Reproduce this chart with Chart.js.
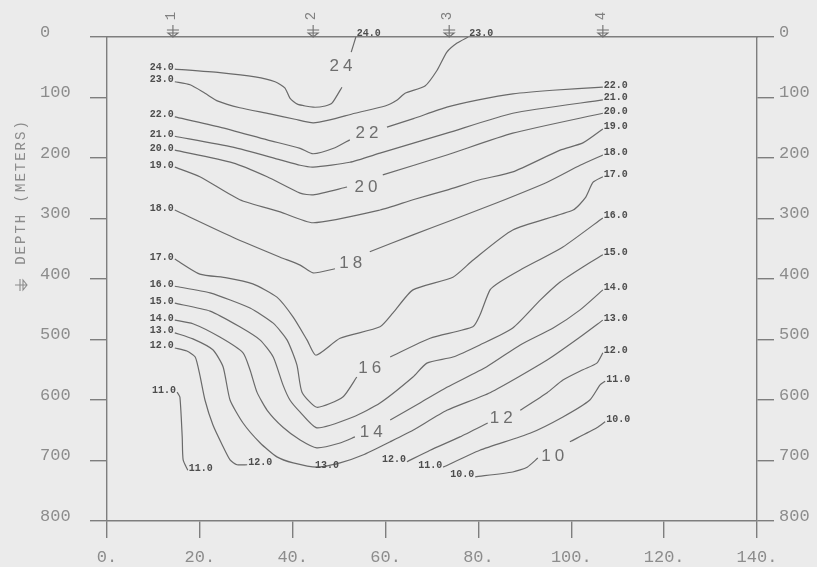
<!DOCTYPE html>
<html><head><meta charset="utf-8">
<script src="https://cdn.jsdelivr.net/npm/chart.js@4/dist/chart.umd.min.js"></script>
<style>html,body{margin:0;padding:0;background:#ebebeb;}</style>
</head><body>
<canvas id="c" width="817" height="567"></canvas>
<script>
// ---- data: each isotherm as [distance, depth] pairs, null = gap for inline label
const c24 = [[14.6,53],[24.3,59],[31.9,66],[36.2,74],[38.3,84],[39.4,101],[41.0,111],[44.4,116],[47.0,114],[48.5,109],[50.6,83],null,[52.6,25],[53.6,0]];
const c23 = [[14.6,74],[17.9,79],[21.1,93],[23.9,106],[28.6,117],[35.1,127],[40.5,136],[44.4,142],[48.0,137],[53.4,126],[59.9,114],[62.5,104],[64.2,93],[68.5,81],[71.1,55],[73.2,25],[75.4,10],[77.8,0]];
const c22 = [[14.6,132],[24.3,149],[34.5,170],[41.6,184],[44.4,193],[49.1,183],[52.3,170],null,[60.3,149],[66.0,135],[73.2,116],[80.0,104],[87.4,94],[96.0,88],[106.8,83]];
const c21 = [[14.6,164],[27.1,182],[37.3,203],[41.6,212],[44.4,215],[52.3,207],[58.8,192],[73.2,159],[87.4,126],[106.8,104]];
const c20 = [[14.6,187],[27.1,208],[34.5,231],[41.6,258],[44.4,261],[51.7,248],null,[59.4,228],[73.2,195],[87.4,159],[106.8,126]];
const c19 = [[14.6,215],[20.0,231],[28.6,269],[37.3,289],[44.4,307],[58.8,286],[65.9,269],[73.2,253],[80.3,236],[87.4,223],[97.6,187],[102.5,175],[106.8,152]];
const c18 = [[14.6,286],[27.1,331],[37.3,364],[41.6,377],[44.4,390],[49.1,383],null,[56.6,355],[65.9,327],[74.5,302],[84.0,274],[94.8,240],[101.9,212],[106.8,195]];
const c17 = [[14.6,367],[20.0,392],[25.8,398],[31.4,408],[36.6,430],[40.1,463],[43.1,501],[45.0,526],[50.2,498],[58.8,479],[61.6,456],[65.9,418],[74.5,397],[78.8,369],[87.4,319],[100.4,286],[103.0,266],[104.7,240],[106.8,231]];
const c16 = [[14.6,412],[22.2,423],[30.8,448],[35.8,473],[38.8,501],[40.9,542],[42.0,587],[45.2,612],[50.8,595],[53.8,562],null,[61.0,529],[69.6,498],[78.8,479],[80.3,460],[82.5,418],[84.6,405],[89.0,385],[98.2,347],[106.8,299]];
const c15 = [[14.6,440],[22.2,453],[28.6,479],[33.0,501],[35.8,529],[37.9,575],[39.4,600],[41.6,620],[45.2,646],[53.0,628],[58.8,605],[65.9,562],[68.9,539],[74.5,529],[80.3,509],[87.4,481],[93.3,435],[97.6,405],[102.5,380],[106.8,360]];
const c14 = [[14.6,468],[18.5,474],[24.3,496],[29.3,522],[30.8,550],[32.3,587],[34.5,617],[37.9,645],[41.6,666],[45.2,679],[50.2,671],[53.4,661],null,[61.0,633],[67.4,605],[73.2,579],[81.8,545],[89.0,509],[96.1,481],[101.9,451],[106.8,418]];
const c13 = [[14.6,489],[18.5,499],[22.8,517],[25.0,545],[26.5,600],[29.3,638],[33.0,671],[36.6,694],[40.1,704],[45.2,711],[50.2,704],[55.1,691],[61.0,669],[65.9,650],[73.2,617],[82.5,588],[94.8,534],[101.9,496],[106.8,468]];
const c12a = [[14.6,514],[17.2,519],[19.0,529],[20.0,559],[21.1,600],[22.8,641],[24.8,674],[26.5,699],[28.0,707],[30.2,707]];
const c12b = [[64.6,702],[69.6,683],[76.0,661],[82.0,638],null,[89.0,617],[94.8,588],[98.2,567],[102.5,550],[105.5,539],[106.8,522]];
const c11a = [[15.1,587],[15.7,595],[16.2,661],[16.4,699],[17.4,716]];
const c11b = [[72.4,711],[80.3,683],[91.1,655],[98.2,628],[104.0,600],[106.2,575],[107.3,569]];
const c10 = [[79.3,727],[87.4,719],[90.5,711],[92.8,696],null,[99.7,669],[105.5,646],[107.3,636]];

const contours = [c24,c23,c22,c21,c20,c19,c18,c17,c16,c15,c14,c13,c12a,c12b,c11a,c11b,c10];
const contourLevels = ['24.0','23.0','22.0','21.0','20.0','19.0','18.0','17.0','16.0','15.0','14.0','13.0','12.0','12.0','11.0','11.0','10.0'];

// inline contour labels [distance, depth, text]
const inlineLabels = [[50.4,48,'24'],[56.0,160,'22'],[55.8,248,'20'],[52.5,374,'18'],[56.6,547,'16'],[56.9,653,'14'],[84.9,630,'12'],[96.0,693,'10']];
const midLabels = [[47.4,709,'13.0']];

// stations along the top
const stationX = [14.2, 44.4, 73.7, 106.8];
const stationNames = ['1','2','3','4'];

const xTickValues = [0,20,40,60,80,100,120,140];
const depthTickValues = [0,100,200,300,400,500,600,700,800];
const yTitle = 'DEPTH (METERS)';

// ---- chart
const LINE = '#6a6a6a', AXIS = '#7e7e7e', TXT = '#8c8c8c';
const tickFont = {family: '"Liberation Mono", monospace', size: 17};

function symbol(ctx, cx, by) {
  ctx.beginPath();
  ctx.moveTo(cx, by - 12); ctx.lineTo(cx, by);
  ctx.moveTo(cx - 6, by - 7); ctx.lineTo(cx + 6, by - 7);
  ctx.moveTo(cx - 5, by - 4); ctx.lineTo(cx + 5, by - 4); ctx.lineTo(cx, by); ctx.closePath();
  ctx.stroke();
}

const bgPlugin = {id: 'bg', beforeDraw(chart) {
  const c = chart.ctx; c.save(); c.fillStyle = '#ebebeb'; c.fillRect(0, 0, chart.width, chart.height); c.restore();
}};

const annPlugin = {id: 'ann', afterDraw(chart) {
  const ctx = chart.ctx, xs = chart.scales.x, ys = chart.scales.y;
  const px = v => xs.getPixelForValue(v), py = v => ys.getPixelForValue(v);
  ctx.save();
  // end labels of contours
  ctx.font = 'bold 10px "Liberation Mono", monospace';
  ctx.fillStyle = '#4d4d4d';
  ctx.textBaseline = 'middle';
  chart.data.datasets.forEach(ds => {
    const pts = ds.data.filter(p => p.x !== null);
    const f = pts[0], l = pts[pts.length - 1];
    ctx.textAlign = 'right';
    ctx.fillText(ds.label, px(f.x) - 1, py(f.y) - 2);
    ctx.textAlign = 'left';
    const ly = l.y <= 0 ? py(0) - 4 : py(l.y) - 2;
    ctx.fillText(ds.label, px(l.x) + 1, ly);
  });
  ctx.textAlign = 'center';
  midLabels.forEach(m => ctx.fillText(m[2], px(m[0]), py(m[1])));
  // inline labels
  ctx.font = '17px "Liberation Sans", sans-serif';
  ctx.fillStyle = '#6e6e6e';
  ctx.letterSpacing = '4px';
  ctx.textAlign = 'center';
  inlineLabels.forEach(m => ctx.fillText(m[2], px(m[0]) + 2, py(m[1])));
  ctx.letterSpacing = '0px';
  // stations
  ctx.strokeStyle = '#707070'; ctx.lineWidth = 1.1;
  ctx.fillStyle = '#808080';
  ctx.font = '14px "Liberation Mono", monospace';
  stationX.forEach((s, i) => {
    const x = px(s), top = py(0);
    symbol(ctx, x, top);
    ctx.save(); ctx.translate(x - 2, top - 21); ctx.rotate(-Math.PI / 2);
    ctx.textAlign = 'center'; ctx.textBaseline = 'middle';
    ctx.fillText(stationNames[i], 0, 0); ctx.restore();
  });
  // y title
  ctx.fillStyle = TXT;
  ctx.save(); ctx.translate(21, 192); ctx.rotate(-Math.PI / 2);
  ctx.font = '14px "Liberation Mono", monospace'; ctx.letterSpacing = '2px';
  ctx.textAlign = 'center'; ctx.textBaseline = 'middle';
  ctx.fillText(yTitle, 0, 0); ctx.restore();
  ctx.save(); ctx.translate(21, 285); ctx.rotate(-Math.PI / 2);
  ctx.strokeStyle = TXT; symbol(ctx, 0, 6); ctx.restore();
  ctx.restore();
}};

const datasets = contours.map((arr, i) => ({
  label: contourLevels[i],
  data: arr.map(p => p ? {x: p[0], y: p[1]} : {x: null, y: null}),
  showLine: true, borderColor: LINE, borderWidth: 1.2, pointRadius: 0,
  tension: 0.2, spanGaps: false, fill: false
}));

const gridOpts = {drawOnChartArea: false, drawTicks: true, tickLength: 17, color: AXIS, lineWidth: 1.4};
const borderOpts = {display: true, color: AXIS, width: 1.4};

new Chart(document.getElementById('c'), {
  type: 'scatter',
  data: {datasets},
  options: {
    responsive: false, animation: false, devicePixelRatio: 1,
    layout: {padding: {top: 37, left: 40, right: 0, bottom: 0}},
    plugins: {legend: {display: false}, tooltip: {enabled: false}},
    scales: {
      x: {type: 'linear', position: 'bottom', min: 0, max: 140,
        afterBuildTicks: s => { s.ticks = xTickValues.map(v => ({value: v})); },
        ticks: {color: TXT, font: tickFont, padding: 9, maxRotation: 0, callback: v => v + '.'},
        grid: gridOpts, border: borderOpts,
        afterFit: s => { s.height = 46; }},
      xt: {type: 'linear', position: 'top', min: 0, max: 140,
        ticks: {display: false}, grid: {drawOnChartArea: false, drawTicks: false, color: AXIS},
        border: borderOpts, afterFit: s => { s.height = 0; }},
      y: {type: 'linear', position: 'left', reverse: true, min: 0, max: 800,
        afterBuildTicks: s => { s.ticks = depthTickValues.map(v => ({value: v})); },
        ticks: {color: TXT, font: tickFont, crossAlign: 'far', labelOffset: -5, padding: 4},
        grid: gridOpts, border: borderOpts,
        afterFit: s => { s.width = 67; }},
      y2: {type: 'linear', position: 'right', reverse: true, min: 0, max: 800,
        afterBuildTicks: s => { s.ticks = depthTickValues.map(v => ({value: v})); },
        ticks: {color: TXT, font: tickFont, crossAlign: 'near', labelOffset: -5, padding: 5},
        grid: gridOpts, border: borderOpts,
        afterFit: s => { s.width = 60; }}
    }
  },
  plugins: [bgPlugin, annPlugin]
});
</script>
</body></html>
